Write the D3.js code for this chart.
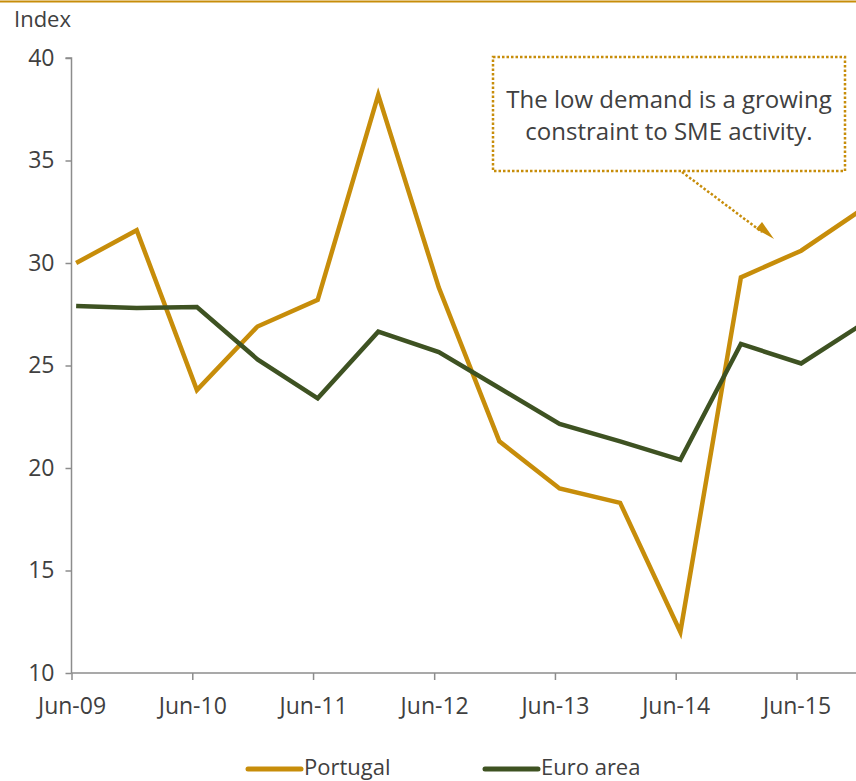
<!DOCTYPE html>
<html>
<head>
<meta charset="utf-8">
<script src="https://cdn.jsdelivr.net/npm/d3@7"></script>
<style>
  body { margin: 0; background: #fff; }
  svg text { font-family: "Open Sans", "Noto Sans", sans-serif; fill: #404040; }
</style>
</head>
<body>
<div id="chart"></div>
<script>
// half-yearly observations, Jun-09 .. Dec-15
const periods = ["2009-06","2009-12","2010-06","2010-12","2011-06","2011-12","2012-06",
                 "2012-12","2013-06","2013-12","2014-06","2014-12","2015-06","2015-12"];
const portugal = [30.0, 31.6, 23.8, 26.9, 28.2, 38.2, 28.8, 21.3, 19.0, 18.3, 12.0, 29.3, 30.6, 32.6];
const euroArea = [27.9, 27.8, 27.85, 25.3, 23.4, 26.65, 25.65, 23.9, 22.15, 21.3, 20.4, 26.05, 25.1, 27.0];
const yTicks = [10, 15, 20, 25, 30, 35, 40];
const xTickYears = [2009, 2010, 2011, 2012, 2013, 2014, 2015];
const seriesNames = ["Portugal", "Euro area"];
const seriesColors = ["#C78D0A", "#3E5222"];
const note = ["The low demand is a growing", "constraint to SME activity."];

const width = 856, height = 781;
const svg = d3.select("#chart").append("svg").attr("width", width).attr("height", height);

const parse = d3.timeParse("%Y-%m-%d");
const dates = periods.map(p => parse(p + "-15"));

const xScale = d3.scaleTime()
    .domain([parse("2009-06-01"), parse("2015-06-01")])
    .range([71.5, 796.5]);
const yScale = d3.scaleLinear().domain([10, 40]).range([673, 58]);

// top rule
svg.append("line").attr("x1", 0).attr("x2", width).attr("y1", 1.5).attr("y2", 1.5)
    .attr("stroke", "#C78D0A").attr("stroke-width", 2);

svg.append("text").attr("x", 14).attr("y", 27).attr("font-size", 22).text("Index");

// axes
const yAxis = d3.axisLeft(yScale).tickValues(yTicks).tickSize(6).tickPadding(11);
const gy = svg.append("g").attr("transform", "translate(" + 71.5 + ",0)").call(yAxis);
gy.select(".domain").attr("d", "M-6," + yScale(40) + "H0V" + yScale(10));

const xAxis = d3.axisBottom(xScale)
    .tickValues(xTickYears.map(y => new Date(y, 5, 1)))
    .tickFormat(d3.timeFormat("Jun-%y"))
    .tickSize(7).tickPadding(18);
const gx = svg.append("g").attr("transform", "translate(0," + 673 + ")").call(xAxis);
gx.select(".domain").attr("d", "M71.5,0H" + width);

svg.selectAll(".domain, .tick line").attr("stroke", "#8c8c8c").attr("stroke-width", 1.5);
svg.selectAll(".tick text").attr("font-size", 23).attr("fill", "#404040")
    .style("font-family", "'Open Sans', 'Noto Sans', sans-serif");

// lines
const line = d3.line().x((d, i) => xScale(dates[i])).y(d => yScale(d));
[portugal, euroArea].forEach((vals, k) => {
    svg.append("path").datum(vals)
        .attr("d", line)
        .attr("fill", "none")
        .attr("stroke", seriesColors[k])
        .attr("stroke-width", 4.5)
        .attr("stroke-linejoin", "miter");
});

// annotation box + dotted arrow
svg.append("rect").attr("x", 493).attr("y", 57).attr("width", 352).attr("height", 114)
    .attr("fill", "#fff").attr("stroke", "#C78D0A").attr("stroke-width", 2.5)
    .attr("stroke-dasharray", "2.5,2");

note.forEach((t, i) => {
    svg.append("text").attr("x", 669).attr("y", 108 + i * 32)
        .attr("text-anchor", "middle").attr("font-size", 24).text(t);
});

svg.append("line").attr("x1", 682).attr("y1", 172).attr("x2", 762).attr("y2", 232)
    .attr("stroke", "#C78D0A").attr("stroke-width", 2.5).attr("stroke-dasharray", "2.5,2");
svg.append("path").attr("d", "M756,229L774,239L762,222Z").attr("fill", "#C78D0A");

// legend
const legendX = [248, 485];
seriesNames.forEach((n, i) => {
    svg.append("line").attr("x1", legendX[i]).attr("x2", legendX[i] + 53)
        .attr("y1", 769).attr("y2", 769)
        .attr("stroke", seriesColors[i]).attr("stroke-width", 5).attr("stroke-linecap", "round");
    svg.append("text").attr("x", legendX[i] + 56).attr("y", 775)
        .attr("font-size", 22).text(n);
});
</script>
</body>
</html>
